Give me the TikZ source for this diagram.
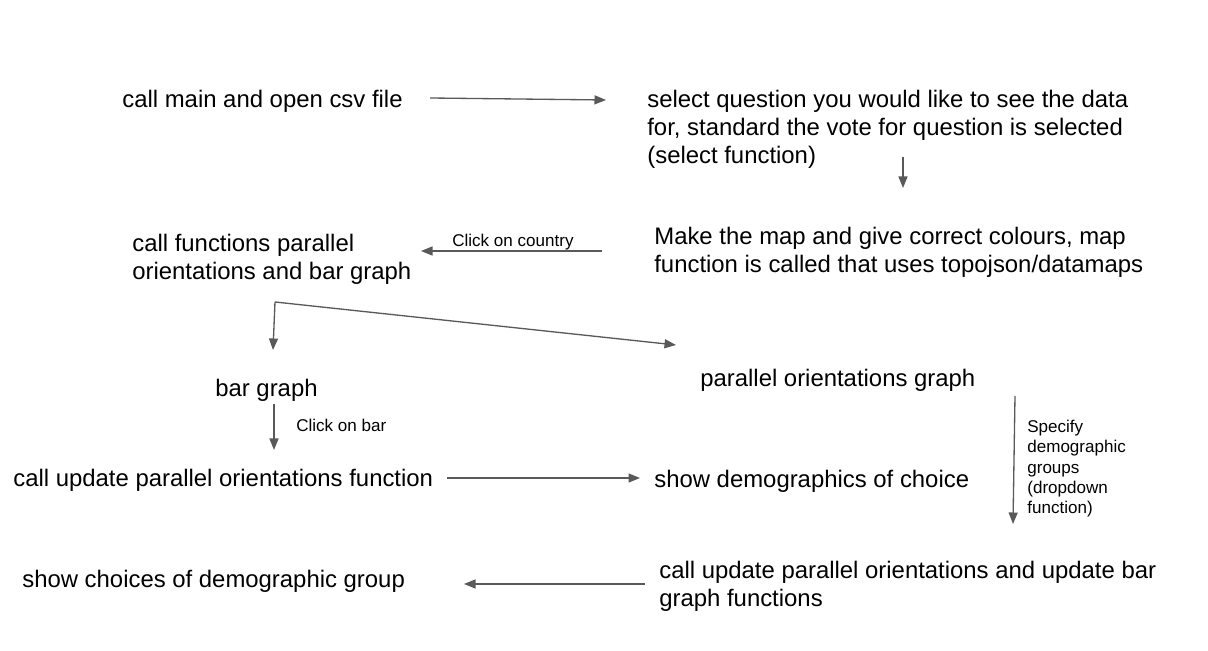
\documentclass[tikz,border=0pt]{standalone}
\usepackage{fontspec}
\setmainfont{Liberation Sans}
\usetikzlibrary{arrows.meta}
\definecolor{arrowgray}{HTML}{595959}

\begin{document}
\begin{tikzpicture}[x=0.02cm, y=-0.02cm,
		txt/.style={anchor=base west, inner sep=0pt, align=left, font=\fontsize{13.6}{15.94}\selectfont},
		lbl/.style={anchor=base west, inner sep=0pt, align=left, font=\fontsize{9.7}{11.6}\selectfont},
		flow/.style={draw=arrowgray, line width=0.75pt, -{Triangle[length=2.3mm,width=1.8mm]}}]
			%%%%% START %%%%%
			
			\useasboundingbox (0, 0) rectangle (1208, 651);
			
			% anchor base of a node with several lines = baseline of its last line
			\node[txt] (main) at (122, 108) {call main and open csv file};
			\node[txt] (select) at (647, 164) {select question you would like to see the data\\for, standard the vote for question is selected\\(select function)};
			\node[txt] (map) at (654, 273) {Make the map and give correct colours, map\\function is called that uses topojson/datamaps};
			\node[txt] (callfun) at (132, 280) {call functions parallel\\orientations and bar graph};
			\node[txt] (bar) at (215, 397) {bar graph};
			\node[txt] (par) at (700, 387) {parallel orientations graph};
			\node[txt] (updpar) at (13, 487) {call update parallel orientations function};
			\node[txt] (showdemo) at (654, 488) {show demographics of choice};
			\node[txt] (choices) at (22, 588) {show choices of demographic group};
			\node[txt] (updboth) at (659, 607) {call update parallel orientations and update bar\\graph functions};
			
			\coordinate (a1) at (430, 98);
			\coordinate (a2) at (606, 100);
			\coordinate (b1) at (903, 157);
			\coordinate (b2) at (903, 188);
			\coordinate (c1) at (602, 251);
			\coordinate (c2) at (421, 251);
			\coordinate (d0) at (275, 302);
			\coordinate (d1) at (273, 350);
			\coordinate (d2) at (676, 345);
			\coordinate (e1) at (274, 404);
			\coordinate (e2) at (274, 450);
			\coordinate (f1) at (447, 478);
			\coordinate (f2) at (640, 478);
			\coordinate (g1) at (1015, 396);
			\coordinate (g2) at (1013, 524);
			\coordinate (h1) at (645, 584);
			\coordinate (h2) at (464, 584);
			
			\draw[flow] (a1) -- (a2);
			\draw[flow] (b1) -- (b2);
			\draw[flow] (c1) -- (c2);
			\draw[flow] (d0) -- (d1);
			\draw[flow] (d0) -- (d2);
			\draw[flow] (e1) -- (e2);
			\draw[flow] (f1) -- (f2);
			\draw[flow] (g1) -- (g2);
			\draw[flow] (h1) -- (h2);
			
			\node[lbl] (clickcountry) at (452, 247) {Click on country};
			\node[lbl] (clickbar) at (296, 432) {Click on bar};
			\node[lbl] (specify) at (1027, 514) {Specify\\demographic\\groups\\(dropdown\\function)};
			
			%%%%% END %%%%%
		\end{tikzpicture}
\end{document}
